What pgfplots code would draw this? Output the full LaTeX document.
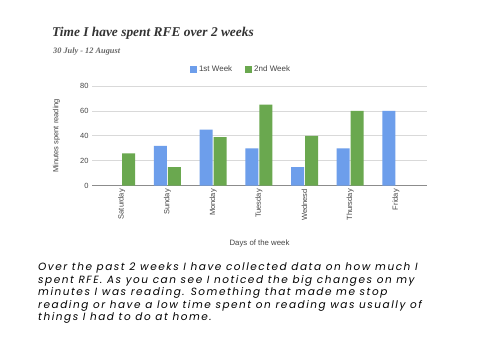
\documentclass[border=0pt]{standalone}
\usepackage{pgfplots}
\pgfplotsset{compat=1.18}
\usepackage{fontspec}
\setmainfont{Liberation Sans}
\newfontfamily\titlefont{Liberation Serif}
\newfontfamily\poppins[LetterSpace=14.5]{Poppins}
\definecolor{wkone}{HTML}{6D9EEB}
\definecolor{wktwo}{HTML}{6AA84F}
\definecolor{txtgrey}{HTML}{444444}
\definecolor{gridgrey}{HTML}{D9D9D9}
\begin{document}
\begin{tikzpicture}
\useasboundingbox[fill=white] (0pt,0pt) rectangle (480pt,360pt);
% title
\node[anchor=west, inner sep=0pt, text=black!80, font=\titlefont\fontsize{13.4}{15}\selectfont\bfseries\itshape] at (52pt,327pt) {Time I have spent RFE over 2 weeks};
\node[anchor=west, inner sep=0pt, text=black!60, font=\titlefont\fontsize{8.3}{10}\selectfont\bfseries\itshape] at (53pt,308pt) {30 July - 12 August};
\begin{axis}[
  at={(92pt,174.3pt)}, anchor=south west,
  scale only axis, width=335pt, height=99.7pt,
  ybar=1pt, bar width=13pt,
  xmin=-0.65, xmax=6.68, ymin=0, ymax=80,
  xtick={0,...,6},
  xticklabels={Saturday,Sunday,Monday,Tuesday,Wednesd,Thursday,Friday},
  xticklabel style={rotate=90, anchor=east, font=\fontsize{7.5}{9}\selectfont, text=txtgrey},
  ytick={0,20,40,60,80},
  yticklabel style={font=\fontsize{7.5}{9}\selectfont, text=txtgrey},
  /pgf/number format/assume math mode=true,
  ymajorgrids, grid style={gridgrey, line width=0.8pt},
  axis x line*=bottom, axis y line*=left,
  y axis line style={draw=none},
  x axis line style={draw=black!45, line width=1pt, -},
  major tick length=0pt, xtick style={draw=none}, ytick style={draw=none},
  ylabel={Minutes spent reading}, ylabel style={font=\fontsize{7.5}{9}\selectfont, text=txtgrey, at={(axis description cs:-0.085,0.5)}},
  xlabel={Days of the week}, xlabel style={font=\fontsize{7.8}{9}\selectfont, text=txtgrey, at={(axis description cs:0.5,0)}, anchor=north, yshift=-51pt},
  legend style={at={(rel axis cs:0.445,1.17)}, anchor=center, draw=none, fill=none, legend columns=2, font=\fontsize{8}{9}\selectfont, text=txtgrey, /tikz/every even column/.append style={column sep=11pt}},
  legend image code/.code={\fill[#1] (0pt,-3.5pt) rectangle (7pt,3.5pt);},
  legend cell align=left,
  clip=false,
]
\addplot[fill=wkone, draw=none] coordinates {(1,32) (2,45) (3,30) (4,15) (5,30) (6,60)};
\addplot[fill=wktwo, draw=none] coordinates {(0,26) (1,15) (2,39) (3,65) (4,40) (5,60)};
\legend{1st Week,2nd Week}
\end{axis}
\node[anchor=north west, inner sep=0pt, align=left, font=\poppins\itshape\fontsize{10.5}{12.4}\selectfont] at (38pt,97pt) {Over the past 2 weeks I have collected data on how much I\\ spent RFE. As you can see I noticed the big changes on my\\ minutes I was reading. Something that made me stop\\ reading or have a low time spent on reading was usually of\\ things I had to do at home.};
\end{tikzpicture}
\end{document}
